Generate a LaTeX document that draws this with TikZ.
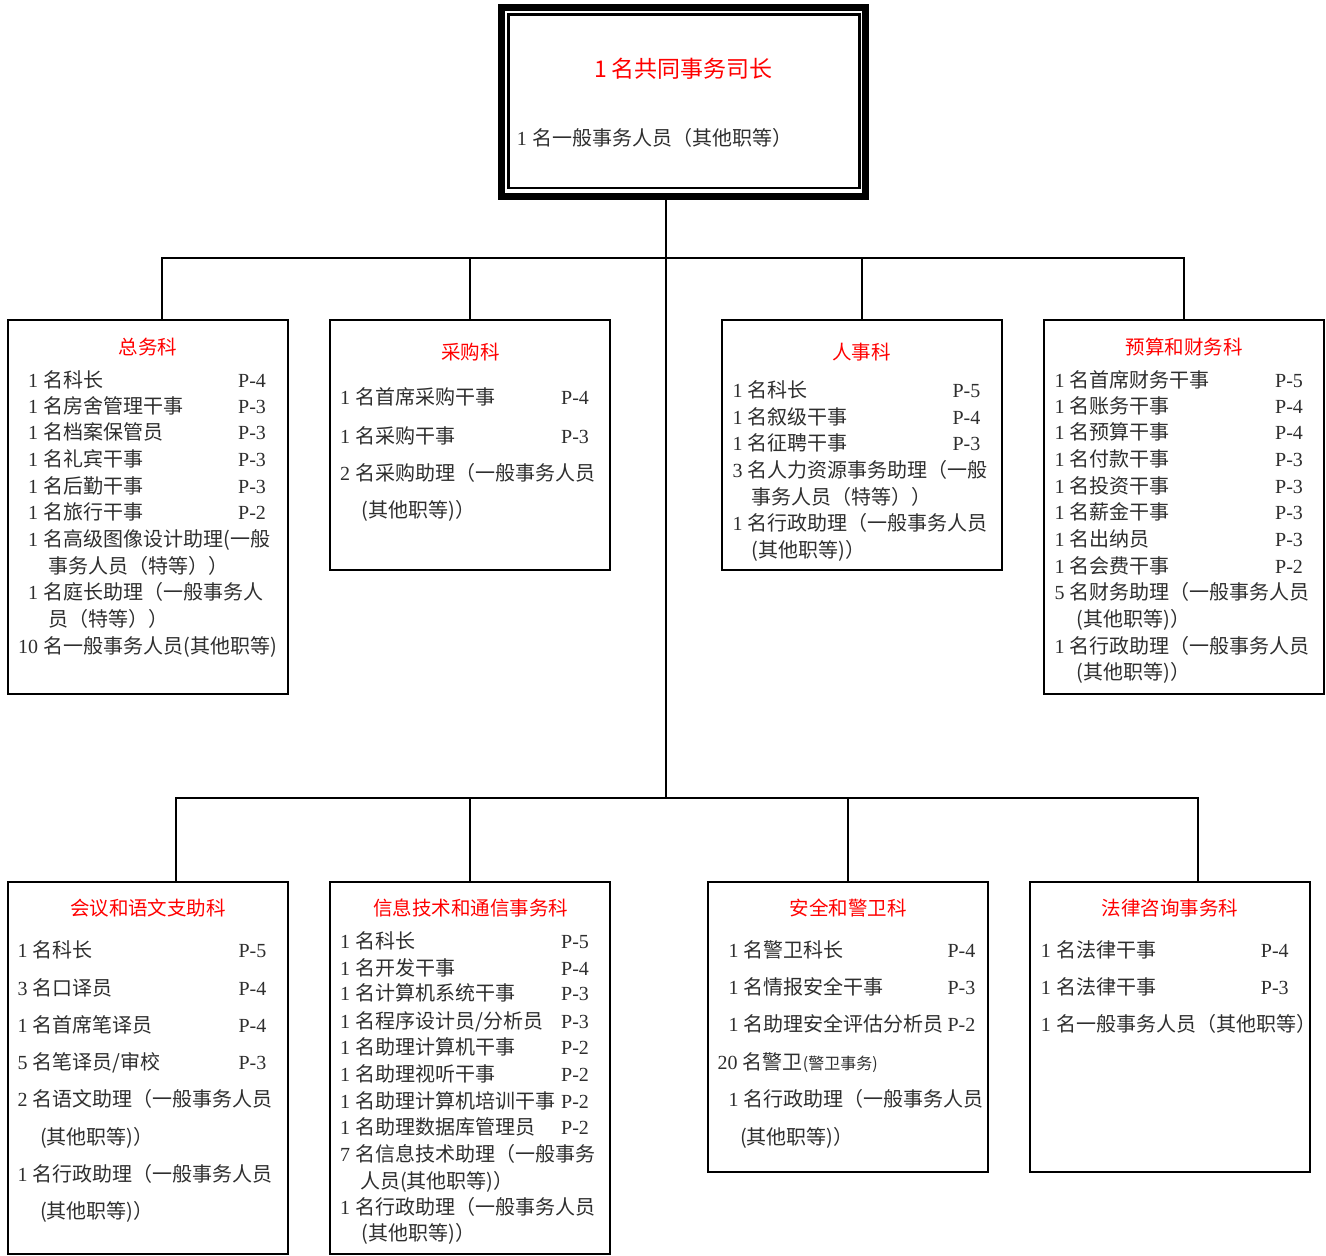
\documentclass[tikz,border=0pt]{standalone}
\usepackage{fontspec}
\setmainfont{Liberation Serif}
\newfontfamily\cjk{Noto Sans CJK SC}
\newcounter{tn}
\newcommand\T[4][ln]{\stepcounter{tn}\node[#1] (t\arabic{tn}) at (#2,{#3+7.5}) {#4};}
\newcommand\lat[1]{{\rmfamily #1}\kern1pt\relax}
\newcommand\R[6]{\T{#1}{#2}{\lat{#3} #4}\T[gr]{#5}{#2}{#6}}
\begin{document}
\begin{tikzpicture}[x=1pt,y=-1pt,
  box/.style={draw, line width=2pt, minimum width=280pt, inner sep=0pt},
  ttl/.style={anchor=base, inner sep=0pt, text=red, font=\cjk\fontsize{19.5}{22}\selectfont},
  ln/.style={anchor=base west, inner sep=0pt, text=black!82, font=\cjk\fontsize{20}{24}\selectfont},
  gr/.style={anchor=base west, inner sep=0pt, text=black!82, font=\rmfamily\fontsize{20}{24}\selectfont},
  wire/.style={line width=2pt}]
\useasboundingbox (0,0) rectangle (1326,1256);

% top box
\node[draw, line width=7pt, minimum width=364pt, minimum height=188.5pt, inner sep=0pt] (top) at (683.5,101.75) {};
\node[draw, line width=2.5pt, minimum width=351pt, minimum height=173.5pt, inner sep=0pt] (topin) at (684,101.25) {};
\T[ttl, font=\cjk\fontsize{23}{26}\selectfont]{683.5}{69.5}{1 名共同事务司长}
\T{516.7}{138.3}{\lat{1} 名一般事务人员（其他职等）}

% department boxes
\node[box, minimum height=374pt] (zw) at (148,507) {};
\node[box, minimum height=250pt] (cg) at (470,445) {};
\node[box, minimum height=250pt] (rs) at (862,445) {};
\node[box, minimum height=374pt] (ys) at (1184,507) {};
\node[box, minimum height=372pt] (hy) at (148,1068) {};
\node[box, minimum height=372pt] (xx) at (470,1068) {};
\node[box, minimum height=290pt] (aq) at (848,1027) {};
\node[box, minimum height=290pt] (fl) at (1170,1027) {};

% connectors
\coordinate (b1) at (666,258);
\coordinate (b2) at (666,798);
\coordinate (d1) at (162,319);
\coordinate (e1) at (176,881);
\coordinate (e4) at (1198,881);
\draw[wire] (b2 |- top.south) -- (b2);
\draw[wire] (d1) |- (b1) -| (ys.north);
\draw[wire] (cg.north) -- (cg.north |- b1);
\draw[wire] (rs.north) -- (rs.north |- b1);
\draw[wire] (e1) |- (b2) -| (e4);
\draw[wire] (xx.north) -- (xx.north |- b2);
\draw[wire] (aq.north) -- (aq.north |- b2);

% 总务科
\T[ttl]{148}{346.7}{总务科}
\R{28}{380}{1}{名科长}{238}{P-4}
\R{28}{405.7}{1}{名房舍管理干事}{238}{P-3}
\R{28}{432.3}{1}{名档案保管员}{238}{P-3}
\R{28}{459}{1}{名礼宾干事}{238}{P-3}
\R{28}{485.7}{1}{名后勤干事}{238}{P-3}
\R{28}{512.3}{1}{名旅行干事}{238}{P-2}
\T{28}{539}{\lat{1} 名高级图像设计助理(一般}
\T{48}{565.7}{事务人员（特等））}
\T{28}{592.3}{\lat{1} 名庭长助理（一般事务人}
\T{48}{619}{员（特等））}
\T{18}{645.7}{\lat{10} 名一般事务人员(其他职等)}

% 采购科
\T[ttl]{470.7}{352.3}{采购科}
\R{340}{396.7}{1}{名首席采购干事}{561}{P-4}
\R{340}{435.7}{1}{名采购干事}{561}{P-3}
\T{340}{473.3}{\lat{2} 名采购助理（一般事务人员}
\T{361.7}{510}{(其他职等)）}

% 人事科
\T[ttl]{861.7}{352.3}{人事科}
\R{732.3}{390}{1}{名科长}{952.3}{P-5}
\R{732.3}{416.7}{1}{名叙级干事}{952.3}{P-4}
\R{732.3}{443.3}{1}{名征聘干事}{952.3}{P-3}
\T{732.3}{470}{\lat{3} 名人力资源事务助理（一般}
\T{751.7}{496.7}{事务人员（特等））}
\T{732.3}{523.3}{\lat{1} 名行政助理（一般事务人员}
\T{751.7}{550}{(其他职等)）}

% 预算和财务科
\T[ttl]{1184}{346.7}{预算和财务科}
\R{1054.3}{380}{1}{名首席财务干事}{1275}{P-5}
\R{1054.3}{405.7}{1}{名账务干事}{1275}{P-4}
\R{1054.3}{432.3}{1}{名预算干事}{1275}{P-4}
\R{1054.3}{459}{1}{名付款干事}{1275}{P-3}
\R{1054.3}{485.7}{1}{名投资干事}{1275}{P-3}
\R{1054.3}{512.3}{1}{名薪金干事}{1275}{P-3}
\R{1054.3}{539}{1}{名出纳员}{1275}{P-3}
\R{1054.3}{565.7}{1}{名会费干事}{1275}{P-2}
\T{1054.3}{592.3}{\lat{5} 名财务助理（一般事务人员}
\T{1076.7}{619}{(其他职等)）}
\T{1054.3}{645.7}{\lat{1} 名行政助理（一般事务人员}
\T{1076.7}{672.3}{(其他职等)）}

% 会议和语文支助科
\T[ttl]{148}{908.3}{会议和语文支助科}
\R{17.3}{950}{1}{名科长}{238.3}{P-5}
\R{17.3}{987.7}{3}{名口译员}{238.3}{P-4}
\R{17.3}{1025}{1}{名首席笔译员}{238.3}{P-4}
\R{17.3}{1062.3}{5}{名笔译员/审校}{238.3}{P-3}
\T{17.3}{1099}{\lat{2} 名语文助理（一般事务人员}
\T{40}{1136.7}{(其他职等)）}
\T{17.3}{1174.3}{\lat{1} 名行政助理（一般事务人员}
\T{40}{1211}{(其他职等)）}

% 信息技术和通信事务科
\T[ttl]{470.7}{908.3}{信息技术和通信事务科}
\R{340}{941}{1}{名科长}{561}{P-5}
\R{340}{967.7}{1}{名开发干事}{561}{P-4}
\R{340}{993.3}{1}{名计算机系统干事}{561}{P-3}
\R{340}{1020.7}{1}{名程序设计员/分析员}{561}{P-3}
\R{340}{1047.3}{1}{名助理计算机干事}{561}{P-2}
\R{340}{1074}{1}{名助理视听干事}{561}{P-2}
\R{340}{1100.7}{1}{名助理计算机培训干事}{561}{P-2}
\R{340}{1127.3}{1}{名助理数据库管理员}{561}{P-2}
\T{340}{1154}{\lat{7} 名信息技术助理（一般事务}
\T{360}{1180.7}{人员(其他职等)）}
\T{340}{1207.3}{\lat{1} 名行政助理（一般事务人员}
\T{361.7}{1233.3}{(其他职等)）}

% 安全和警卫科
\T[ttl]{848.3}{908.3}{安全和警卫科}
\R{728.3}{950}{1}{名警卫科长}{947.3}{P-4}
\R{728.3}{987.3}{1}{名情报安全干事}{947.3}{P-3}
\R{728.3}{1024}{1}{名助理安全评估分析员}{947.3}{P-2}
\T{717.3}{1061.7}{\lat{20} 名警卫{\fontsize{16}{18}\selectfont(警卫事务)}}
\T{728.3}{1099}{\lat{1} 名行政助理（一般事务人员}
\T{740}{1136.7}{(其他职等)）}

% 法律咨询事务科
\T[ttl]{1170}{908.3}{法律咨询事务科}
\R{1040.7}{950}{1}{名法律干事}{1260.7}{P-4}
\R{1040.7}{987.3}{1}{名法律干事}{1260.7}{P-3}
\T{1040.7}{1024}{\lat{1} 名一般事务人员（其他职等）}
\end{tikzpicture}
\end{document}
